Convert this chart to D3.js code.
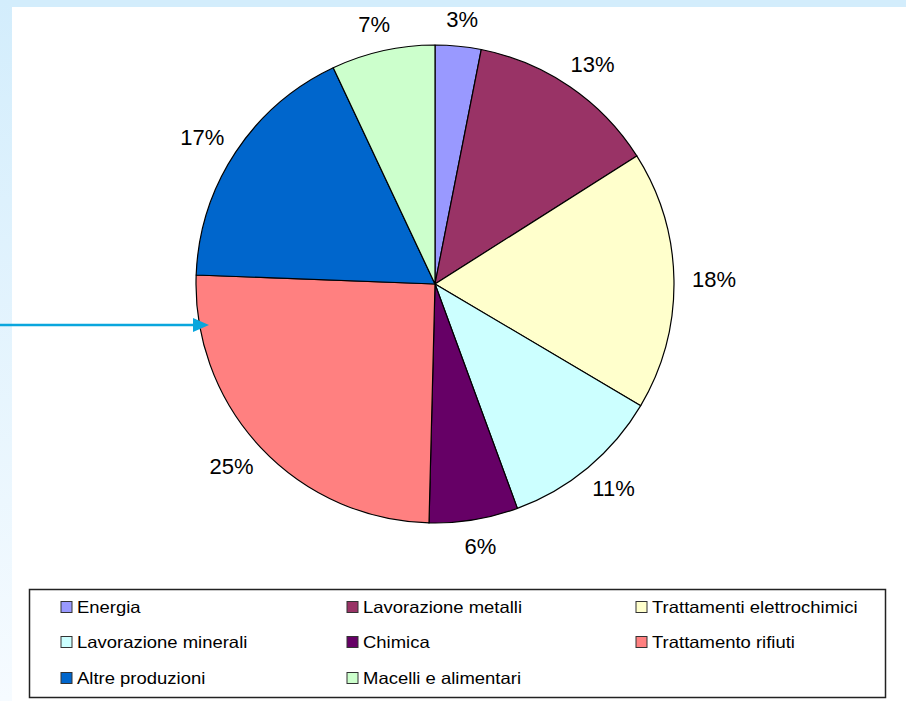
<!DOCTYPE html>
<html>
<head>
<meta charset="utf-8">
<script src="https://cdn.jsdelivr.net/npm/d3@7"></script>
<style>
    body { margin: 0; background: #fff; }
    svg { display: block; font-family: "Liberation Sans", Arial, sans-serif; }
</style>
</head>
<body>
<svg id="chart" width="906" height="701"></svg>
<script>
const categories = ["Energia", "Lavorazione metalli", "Trattamenti elettrochimici", "Lavorazione minerali",
    "Chimica", "Trattamento rifiuti", "Altre produzioni", "Macelli e alimentari"];
const shares = [3.1, 12.9, 17.5, 10.9, 6.0, 25.2, 17.4, 7.0];
const colors = ["#9999ff", "#993366", "#ffffcc", "#ccffff", "#660066", "#ff8080", "#0066cc", "#ccffcc"];

const svg = d3.select("#chart");

// sfondo: bande azzurre in alto e a sinistra
const defs = svg.append("defs");
const grad = defs.append("linearGradient").attr("id", "leftBand")
    .attr("x1", 0).attr("y1", 0).attr("x2", 0).attr("y2", 1);
grad.append("stop").attr("offset", "0%").attr("stop-color", "#d3edfc");
grad.append("stop").attr("offset", "100%").attr("stop-color", "#f6fbff");

svg.append("rect").attr("x", 0).attr("y", 0).attr("width", 906).attr("height", 7).attr("fill", "#d3edfc");
svg.append("rect").attr("x", 0).attr("y", 0).attr("width", 12).attr("height", 701).attr("fill", "url(#leftBand)");

// torta
const cx = 435, cy = 284, radius = 239;
const g = svg.append("g").attr("transform", `translate(${cx},${cy})`);

const pie = d3.pie().sort(null).value(d => d.v);
const arcs = pie(categories.map((c, i) => ({ c, v: shares[i], color: colors[i] })));
const arc = d3.arc().innerRadius(0).outerRadius(radius);

g.selectAll("path.slice")
    .data(arcs)
    .enter()
    .append("path")
    .attr("class", "slice")
    .attr("d", arc)
    .attr("fill", d => d.data.color)
    .attr("stroke", "#000")
    .attr("stroke-width", 1.2)
    .attr("stroke-linejoin", "round");

// etichette su un'ellisse intorno alla torta (come Excel)
const labelRx = 279, labelRy = 266;
g.selectAll("text.pct")
    .data(arcs)
    .enter()
    .append("text")
    .attr("class", "pct")
    .attr("transform", d => {
        const a = (d.startAngle + d.endAngle) / 2;
        return `translate(${labelRx * Math.sin(a)},${-labelRy * Math.cos(a)})`;
    })
    .attr("text-anchor", "middle")
    .attr("dominant-baseline", "central")
    .attr("font-size", 22)
    .attr("fill", "#000")
    .text(d => Math.round(d.data.v) + "%");

// freccia
svg.append("line")
    .attr("x1", 0).attr("y1", 325).attr("x2", 196).attr("y2", 325)
    .attr("stroke", "#0aa6dd").attr("stroke-width", 2.5);
svg.append("path")
    .attr("d", "M193,318 L209,325 L193,332 Z")
    .attr("fill", "#0aa6dd");

// legenda
svg.append("rect")
    .attr("x", 29.5).attr("y", 589.5).attr("width", 856).attr("height", 108)
    .attr("fill", "#fff").attr("stroke", "#222").attr("stroke-width", 1.5);

const colX = [61, 347, 636];
const rowY = [607, 642, 678];
const legend = svg.append("g");
categories.forEach((c, i) => {
    const x = colX[i % 3], y = rowY[Math.floor(i / 3)];
    legend.append("rect")
        .attr("x", x).attr("y", y - 5.5).attr("width", 11).attr("height", 11)
        .attr("fill", colors[i]).attr("stroke", "#333").attr("stroke-width", 1);
    legend.append("text")
        .attr("transform", `translate(${x + 16},${y}) scale(1.12,1)`)
        .attr("dominant-baseline", "central")
        .attr("font-size", 16.5)
        .attr("fill", "#000")
        .text(c);
});
</script>
</body>
</html>
